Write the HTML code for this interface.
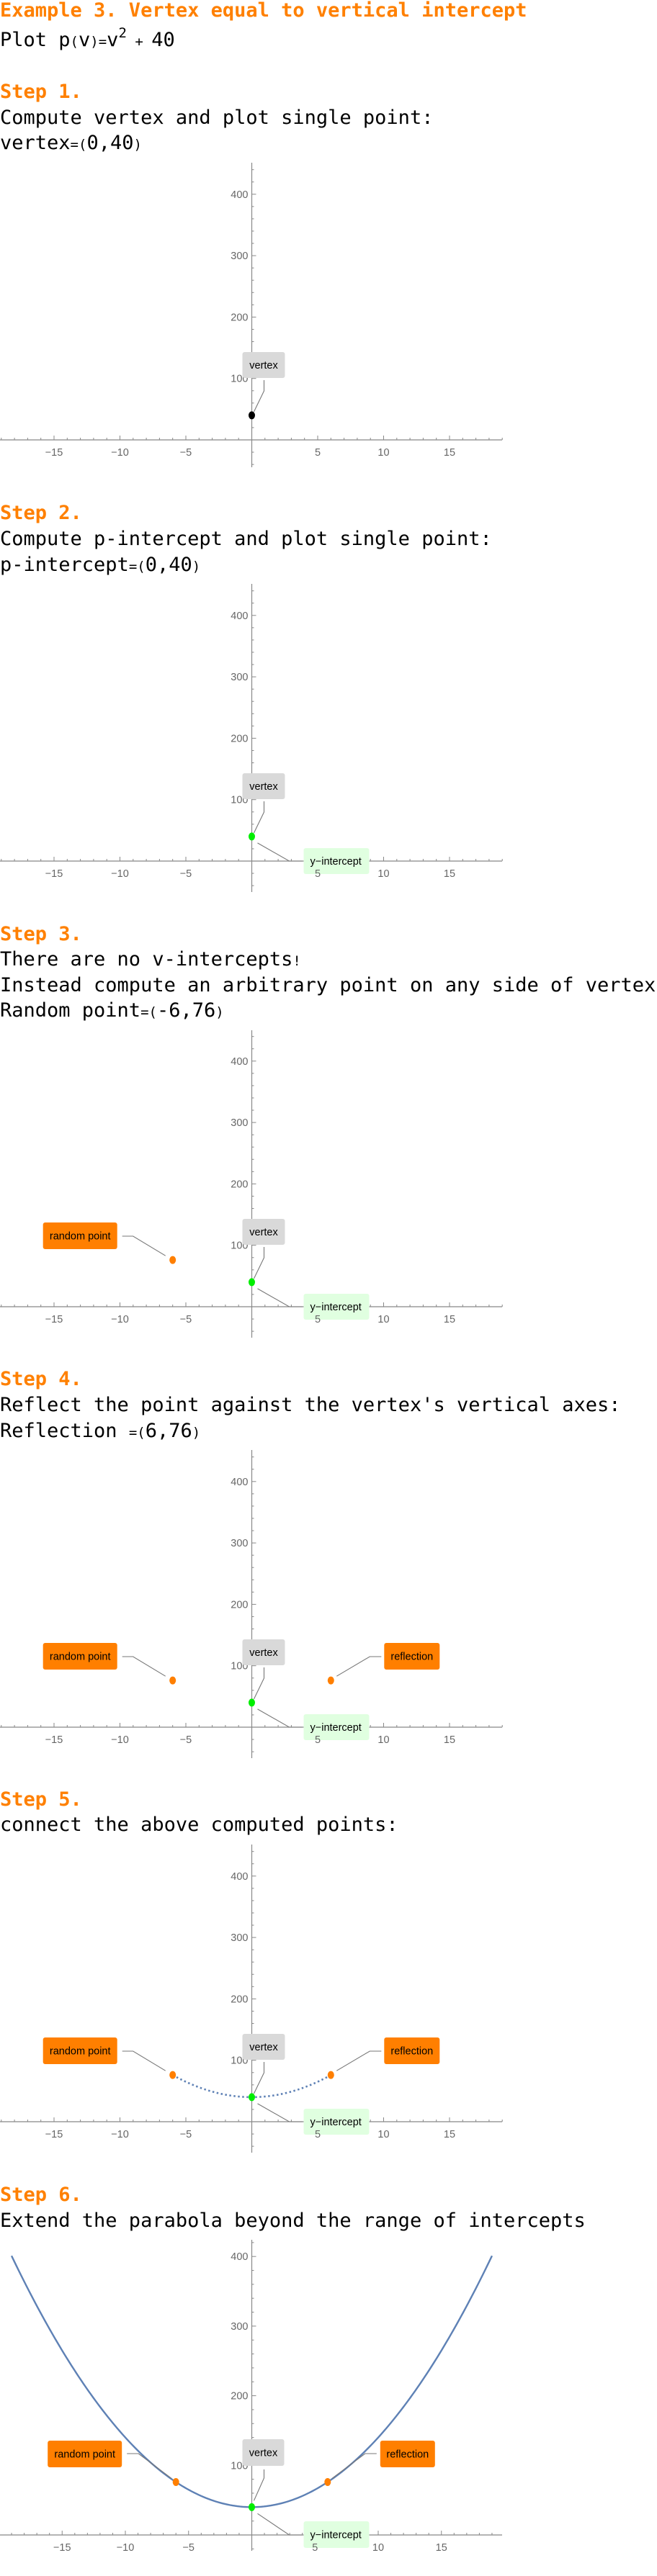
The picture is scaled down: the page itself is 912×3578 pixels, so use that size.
<!DOCTYPE html>
<html><head><meta charset="utf-8"><title>Example 3</title>
<style>
html,body{margin:0;padding:0;background:#fff;}
svg{display:block;}
.h{font-family:"DejaVu Sans Mono","Liberation Mono",monospace;font-size:27px;font-weight:bold;fill:#ff8000;}
.t{font-family:"DejaVu Sans Mono","Liberation Mono",monospace;font-size:27px;fill:#000;}
.s{font-size:19px;}
.tk{font-family:"Liberation Sans",sans-serif;font-size:14.5px;fill:#666;}
.lb{font-family:"Liberation Sans",sans-serif;font-size:14.5px;fill:#000;}
</style></head>
<body>
<svg id="page" width="912" height="3578" viewBox="0 0 912 3578" xmlns="http://www.w3.org/2000/svg">
<text class="h" x="0" y="23">Example 3. Vertex equal to vertical intercept</text>
<text class="t" x="0" y="64">Plot p<tspan class="s">(</tspan>v<tspan class="s">)</tspan><tspan class="s">=</tspan>v<tspan class="s" dy="-12">2</tspan><tspan class="s" dy="12"> + </tspan>40</text>

<text class="h" x="0" y="136">Step 1.</text>
<text class="t" x="0" y="172">Compute vertex and plot single point:</text>
<text class="t" x="0" y="207">vertex<tspan class="s">=(</tspan>0,40<tspan class="s">)</tspan></text>

<text class="h" x="0" y="721">Step 2.</text>
<text class="t" x="0" y="757">Compute p-intercept and plot single point:</text>
<text class="t" x="0" y="793">p-intercept<tspan class="s">=(</tspan>0,40<tspan class="s">)</tspan></text>

<text class="h" x="0" y="1306">Step 3.</text>
<text class="t" x="0" y="1341">There are no v-intercepts<tspan class="s">!</tspan></text>
<text class="t" x="0" y="1377">Instead compute an arbitrary point on any side of vertex:</text>
<text class="t" x="0" y="1412">Random point<tspan class="s">=(</tspan>-6,76<tspan class="s">)</tspan></text>

<text class="h" x="0" y="1924">Step 4.</text>
<text class="t" x="0" y="1960">Reflect the point against the vertex's vertical axes:</text>
<text class="t" x="0" y="1996">Reflection <tspan class="s">=(</tspan>6,76<tspan class="s">)</tspan></text>

<text class="h" x="0" y="2508">Step 5.</text>
<text class="t" x="0" y="2543">connect the above computed points:</text>

<text class="h" x="0" y="3057">Step 6.</text>
<text class="t" x="0" y="3093">Extend the parabola beyond the range of intercepts</text>
</svg>
<script>
// data
const coefA = [1];
const coefC = [40];
const vertexPoint = [0, 40];
const randomPoint = [-6, 76];
const reflectionPoint = [6, 76];
const xTickValues = [-15, -10, -5, 5, 10, 15];
const xTickLabels = ["\u221215", "\u221210", "\u22125", "5", "10", "15"];
const yTickValues = [100, 200, 300, 400];
const yTickLabels = ["100", "200", "300", "400"];
const stepCurveRange = [-6, 6];
const fullCurveRange = [-19, 19];

const NS = "http://www.w3.org/2000/svg";
const svg = document.getElementById("page");
function mk(tag, attrs, parent) {
  const e = document.createElementNS(NS, tag);
  for (const k in attrs) e.setAttribute(k, attrs[k]);
  (parent || svg).appendChild(e);
  return e;
}
function p(v) { return coefA[0] * v * v + coefC[0]; }

const charts = [
  {axisY: 611, ys: 0.853, xs: 18.3, top: 385, bot: 38, vColor: "#000", yint: false, rand: false, refl: false, curve: 0},
  {axisY: 1196, ys: 0.853, xs: 18.3, top: 385, bot: 43, vColor: "#00ee00", yint: true, rand: false, refl: false, curve: 0},
  {axisY: 1815, ys: 0.853, xs: 18.3, top: 384, bot: 43, vColor: "#00ee00", yint: true, rand: true, refl: false, curve: 0},
  {axisY: 2399, ys: 0.853, xs: 18.3, top: 385, bot: 43, vColor: "#00ee00", yint: true, rand: true, refl: true, curve: 0},
  {axisY: 2947, ys: 0.853, xs: 18.3, top: 385, bot: 43, vColor: "#00ee00", yint: true, rand: true, refl: true, curve: 1},
  {axisY: 3521, ys: 0.967, xs: 17.55, top: 410, bot: 22, vColor: "#00ee00", yint: true, rand: true, refl: true, curve: 2}
];
const X0 = 349.5;

charts.forEach((c, i) => {
  const g = mk("g", {});
  
  
  const sx = v => X0 + v * c.xs;
  const sy = v => c.axisY - v * c.ys;
  const xa = mk("line", {x1: 0, x2: 697, y1: c.axisY, y2: c.axisY, stroke: "#888", "stroke-width": 1.2}, g);
  
  
  const ya = mk("line", {x1: X0, x2: X0, y1: c.axisY - c.top, y2: c.axisY + c.bot, stroke: "#888", "stroke-width": 1.2}, g);
  
  
  for (let v = -19; v <= 19; v++) {
    if (v === 0) continue;
    const major = v % 5 === 0;
    mk("line", {x1: sx(v), x2: sx(v), y1: c.axisY, y2: c.axisY - (major ? 6 : 3), stroke: "#888", "stroke-width": 1}, g);
  }
  const ymax = c.top / c.ys, ymin = -c.bot / c.ys;
  for (let v = Math.ceil(ymin / 20) * 20; v <= ymax; v += 20) {
    if (v === 0) continue;
    const major = v % 100 === 0;
    mk("line", {x1: X0, x2: X0 + (major ? 6 : 3), y1: sy(v), y2: sy(v), stroke: "#888", "stroke-width": 1}, g);
  }
  yTickValues.forEach((v, k) => {
    const t = mk("text", {x: X0 - 5, y: sy(v) + 5, "text-anchor": "end", class: "tk"}, g);
    t.textContent = yTickLabels[k];
    
    
  });
  if (c.curve) {
    const r = c.curve === 1 ? stepCurveRange : fullCurveRange;
    let d = "";
    for (let k = 0; k <= 200; k++) {
      const v = r[0] + (r[1] - r[0]) * k / 200;
      d += (k ? "L" : "M") + sx(v).toFixed(2) + "," + sy(p(v)).toFixed(2);
    }
    const path = mk("path", {d: d, fill: "none", stroke: "#5e81b5", "stroke-width": c.curve === 1 ? 2.6 : 2.4,
      "stroke-dasharray": c.curve === 1 ? "2.5,3.5" : "none"}, g);
    
    
  }
  function box(x, y, w, h, fill, label, name, tx) {
    const bg = mk("g", {}, g);
    
    
    mk("rect", {x: x, y: y, width: w, height: h, rx: 3, fill: fill}, bg);
    const t = mk("text", {x: tx !== undefined ? tx : x + w / 2, y: y + h / 2 + 5, "text-anchor": tx !== undefined ? "start" : "middle", class: "lb"}, bg);
    t.textContent = label;
  }
  function leader(pts, name) {
    const l = mk("polyline", {points: pts.map(q => q.join(",")).join(" "), fill: "none", stroke: "#777", "stroke-width": 1.1}, g);
    
    
  }
  const big = c.curve === 2;
  const vx = sx(vertexPoint[0]), vy = sy(vertexPoint[1]);
  if (!big) {
    box(vx - 13, c.axisY - 122, 59, 36, "#d9d9d9", "vertex", "vertex-label");
    leader([[vx + 17, c.axisY - 83], [vx + 17, c.axisY - 68], [vx + 3, vy - 5]], "vertex-leader");
  } else {
    box(vx - 13, c.axisY - 133, 58, 37, "#d9d9d9", "vertex", "vertex-label");
    leader([[vx + 17, c.axisY - 91], [vx + 17, c.axisY - 79], [vx + 3, vy - 9]], "vertex-leader");
  }
  if (c.yint) {
    box(vx + 72, c.axisY - (big ? 19 : 18), 91, big ? 37 : 36, "#e0ffe0", "y\u2212intercept", "y-intercept-label", vx + 81);
    leader([[vx + 8, vy + 9], [vx + 52, c.axisY], [vx + 70, c.axisY]], "y-intercept-leader");
  }
  if (c.rand) {
    const rx = sx(randomPoint[0]), ry = sy(randomPoint[1]);
    if (!big) {
      box(rx - 180, c.axisY - 117, 103, 37, "#ff7f00", "random point", "random-point-label");
      leader([[rx - 70, c.axisY - 98], [rx - 55, c.axisY - 98], [rx - 10, ry - 6]], "random-point-leader");
    } else {
      box(rx - 178, c.axisY - 131, 103, 37, "#ff7f00", "random point", "random-point-label");
      leader([[rx - 68, c.axisY - 113], [rx - 52, c.axisY - 113], [rx - 6, ry - 5]], "random-point-leader");
    }
  }
  if (c.refl) {
    const fx = sx(reflectionPoint[0]), fy = sy(reflectionPoint[1]);
    if (!big) {
      box(fx + 74, c.axisY - 117, 77, 37, "#ff7f00", "reflection", "reflection-label");
      leader([[fx + 70, c.axisY - 98], [fx + 54, c.axisY - 98], [fx + 8, fy - 6]], "reflection-leader");
    } else {
      box(fx + 73, c.axisY - 131, 76, 37, "#ff7f00", "reflection", "reflection-label");
      leader([[fx + 68, c.axisY - 113], [fx + 52, c.axisY - 113], [fx + 6, fy - 5]], "reflection-leader");
    }
  }
  // x tick labels drawn over the label boxes
  xTickValues.forEach((v, k) => {
    const t = mk("text", {x: sx(v), y: c.axisY + 22, "text-anchor": "middle", class: "tk"}, g);
    t.textContent = xTickLabels[k];
    
    
  });
  const vd = mk("ellipse", {cx: vx, cy: vy, rx: 4.5, ry: 5.5, fill: c.vColor}, g);
  
  
  if (c.rand) {
    const d1 = mk("ellipse", {cx: sx(randomPoint[0]), cy: sy(randomPoint[1]), rx: 4.5, ry: 5.5, fill: "#ff7f00"}, g);
    
    
  }
  if (c.refl) {
    const d2 = mk("ellipse", {cx: sx(reflectionPoint[0]), cy: sy(reflectionPoint[1]), rx: 4.5, ry: 5.5, fill: "#ff7f00"}, g);
    
    
  }
});
</script>
</body></html>
